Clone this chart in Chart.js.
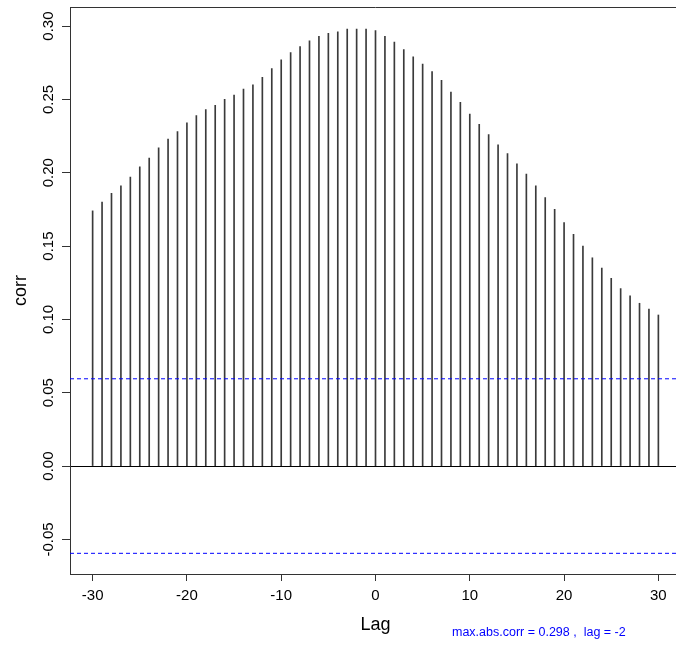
<!DOCTYPE html>
<html>
<head>
<meta charset="utf-8">
<script src="https://cdn.jsdelivr.net/npm/chart.js@4.4.1/dist/chart.umd.min.js"></script>
<style>
    html, body { margin: 0; padding: 0; background: #fff; overflow: hidden; }
    #wrap { width: 676px; height: 645px; overflow: hidden; }
</style>
</head>
<body>
<div id="wrap"><canvas id="ccfChart" width="681" height="645"></canvas></div>
<script>
// cross-correlation by lag
const lags = [-30, -29, -28, -27, -26, -25, -24, -23, -22, -21, -20, -19, -18, -17, -16, -15,
    -14, -13, -12, -11, -10, -9, -8, -7, -6, -5, -4, -3, -2, -1, 0, 1, 2, 3, 4, 5, 6, 7, 8, 9,
    10, 11, 12, 13, 14, 15, 16, 17, 18, 19, 20, 21, 22, 23, 24, 25, 26, 27, 28, 29, 30];
const corr = [0.174, 0.180, 0.186, 0.191, 0.197, 0.204, 0.210, 0.217, 0.223, 0.228, 0.234,
    0.239, 0.243, 0.246, 0.250, 0.253, 0.257, 0.260, 0.265, 0.271, 0.277, 0.282, 0.286, 0.290,
    0.293, 0.295, 0.296, 0.298, 0.298, 0.298, 0.297, 0.293, 0.289, 0.284, 0.279, 0.274, 0.269,
    0.263, 0.255, 0.248, 0.240, 0.233, 0.226, 0.219, 0.213, 0.206, 0.199, 0.191, 0.183, 0.175,
    0.166, 0.158, 0.150, 0.142, 0.135, 0.128, 0.121, 0.116, 0.111, 0.107, 0.103];
const ciLimit = 0.0595;
const xTicks = [-30, -20, -10, 0, 10, 20, 30];
const yTicks = [-0.05, 0.00, 0.05, 0.10, 0.15, 0.20, 0.25, 0.30];
const xRange = [-32.4, 32.4];
const yRange = [-0.0736, 0.313];
const maxLabel = 'max.abs.corr = 0.298 ,  lag = -2';

const FONT = '"Liberation Sans", Arial, sans-serif';
Chart.defaults.font.family = FONT;
Chart.defaults.color = '#000';

// rotated y labels, top border and the max annotation
const extras = {
    id: 'extras',
    afterDraw(chart) {
        const ctx = chart.ctx;
        const area = chart.chartArea;
        const y = chart.scales.y;
        ctx.save();
        ctx.strokeStyle = '#333';
        ctx.lineWidth = 1;
        ctx.beginPath();
        ctx.moveTo(area.left, Math.round(area.top) + 0.5);
        ctx.lineTo(area.right, Math.round(area.top) + 0.5);
        ctx.stroke();

        ctx.fillStyle = '#000';
        ctx.font = '15px ' + FONT;
        ctx.textAlign = 'center';
        ctx.textBaseline = 'alphabetic';
        yTicks.forEach(v => {
            ctx.save();
            ctx.translate(53, y.getPixelForValue(v));
            ctx.rotate(-Math.PI / 2);
            ctx.fillText(v.toFixed(2), 0, 0);
            ctx.restore();
        });

        ctx.fillStyle = '#0000ff';
        ctx.font = '12.5px ' + FONT;
        ctx.textAlign = 'left';
        ctx.fillText(maxLabel, 452, 636);
        ctx.restore();
    }
};

new Chart(document.getElementById('ccfChart'), {
    type: 'bar',
    data: {
        datasets: [{
            data: lags.map((l, i) => ({ x: l, y: corr[i] })),
            backgroundColor: '#3a3a3a',
            borderWidth: 0,
            barThickness: 1,
            order: 2
        }, {
            type: 'line',
            data: [{ x: xRange[0], y: ciLimit }, { x: xRange[1], y: ciLimit }],
            borderColor: '#0000ff',
            borderWidth: 1,
            borderDash: [4, 3],
            pointRadius: 0,
            order: 1
        }, {
            type: 'line',
            data: [{ x: xRange[0], y: -ciLimit }, { x: xRange[1], y: -ciLimit }],
            borderColor: '#0000ff',
            borderWidth: 1,
            borderDash: [4, 3],
            pointRadius: 0,
            order: 1
        }]
    },
    options: {
        responsive: false,
        animation: false,
        layout: { padding: { top: 7, left: 0, right: 0, bottom: 0 } },
        plugins: { legend: { display: false }, tooltip: { enabled: false } },
        scales: {
            x: {
                type: 'linear',
                min: xRange[0],
                max: xRange[1],
                offset: false,
                afterBuildTicks: s => { s.ticks = xTicks.map(v => ({ value: v })); },
                afterFit: s => { s.height = 71; },
                grid: { offset: false, drawOnChartArea: false, drawTicks: true, tickLength: 7, tickColor: '#333' },
                border: { display: true, color: '#333' },
                ticks: { font: { size: 15 }, padding: 6, color: '#000', maxRotation: 0 },
                title: { display: true, text: 'Lag', font: { size: 18 }, padding: { top: 0, bottom: 9 } }
            },
            y: {
                type: 'linear',
                min: yRange[0],
                max: yRange[1],
                afterBuildTicks: s => { s.ticks = yTicks.map(v => ({ value: v })); },
                afterFit: s => { s.width = 70; },
                grid: {
                    color: c => (c.tick && Math.abs(c.tick.value) < 1e-9 ? '#000' : 'rgba(0,0,0,0)'),
                    tickColor: '#333',
                    tickLength: 8,
                    drawTicks: true
                },
                border: { display: true, color: '#333' },
                ticks: { display: false },
                title: { display: true, text: 'corr', font: { size: 18 }, padding: { top: 10, bottom: 0 } }
            }
        }
    },
    plugins: [extras]
});
</script>
</body>
</html>
